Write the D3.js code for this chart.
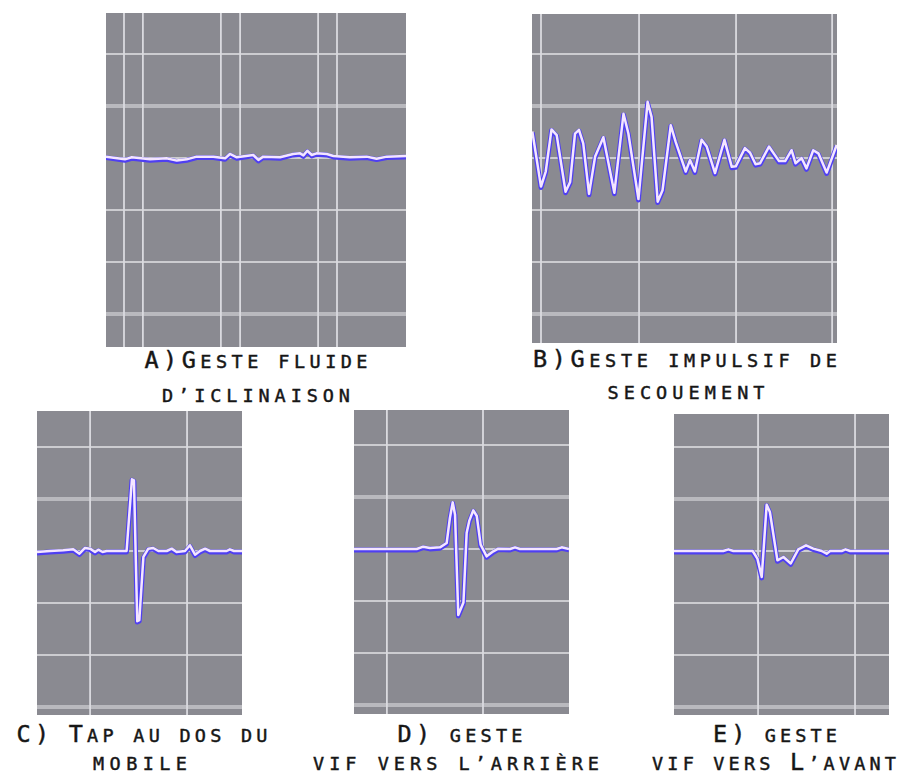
<!DOCTYPE html>
<html>
<head>
<meta charset="utf-8">
<script src="https://cdn.jsdelivr.net/npm/d3@7"></script>
<style>
  html, body { margin: 0; padding: 0; background: #ffffff; }
  svg { display: block; }
</style>
</head>
<body>
<svg id="chart" width="906" height="776"></svg>
<script>
// ---------------- DATA ----------------
// Captions (two lines per panel)
const captionLine1 = ["A)Geste fluide", "B)Geste impulsif de", "C) Tap au dos du", "D) geste", "E) geste"];
const captionLine2 = ["d\u2019iclinaison", "secouement", "mobile", "vif vers l\u2019arri\u00e8re", "vif vers L\u2019avant"];

// Amplitude gridline values (one grid step = 10 units)
const yTicks = [-30, -20, -10, 0, 10, 20, 30];
const yTicksWide = [10, -30];

// Time gridline values per panel (time axis 0..100)
const xTicksA = [6, 12.3, 38.3, 44.7, 70.7, 77];
const xTicksB = [2.95, 35.1, 66.9, 98.4];
const xTicksC = [25.9, 73.2];
const xTicksD = [15.3, 60];
const xTicksE = [39.1, 84.2];

// A) smooth tilt gesture
const tA = [0, 6.3, 8.6, 14.7, 20.2, 23.6, 26.9, 30.2, 35.8, 39.7, 41.3, 43.6, 49.1, 50.8, 52.4, 58, 62.4, 64.7, 65.8, 67.1, 68.6, 70.2, 73.6, 75.8, 81.3, 86.9, 90.2, 93.6, 100];
const vA = [0.26, -0.26, 0.13, -0.26, -0.06, -0.5, -0.26, 0.26, 0.26, -0.06, 0.77, 0.13, 0.58, -0.38, 0.26, 0.13, 0.77, 0.9, 0.5, 1.4, 0.58, 0.9, 0.77, 0.38, 0.13, 0.26, -0.13, 0.26, 0.38];

// B) shaking gesture
const tB = [0.1, 2.95, 4.5, 6.4, 8.1, 11.0, 12.5, 14.1, 15.4, 16.8, 18.7, 20.7, 23.4, 27.0, 30.0, 31.6, 34.9, 37.9, 39.2, 41.2, 42.8, 45.5, 47.1, 50.4, 51.8, 53.4, 55.6, 57.3, 60.0, 63.1, 65.5, 66.8, 69.8, 71.5, 73.3, 74.8, 77.7, 81.0, 83.0, 85.1, 86.4, 88.4, 90.0, 92.2, 93.9, 96.6, 99.9];
const vB = [5.1, -5.5, -2.6, 5.5, 4.4, -6.5, -4.6, 4.7, 5.4, 2.8, -6.9, 0.3, 4.0, -6.7, 8.5, 4.7, -7.9, 10.8, 7.9, -8.4, -6.2, 6.3, 3.1, -2.6, -0.4, -2.6, 3.5, 2.2, -2.9, 3.5, -1.7, -1.6, 1.9, 1.0, -1.2, -1.0, 2.2, -0.6, -0.6, 1.5, -1.0, 0, -2.0, 1.5, 0.9, -2.8, 2.5];

// C) tap on the back
const tC = [0, 6.3, 12.8, 17.7, 20.7, 23.4, 25.9, 28.3, 29.9, 32.0, 34.0, 43.7, 46.3, 47.3, 48.9, 49.9, 51.9, 54.3, 56.7, 59.2, 63.3, 65.7, 68.1, 72.2, 74.6, 77.1, 79.5, 82.0, 84.4, 92.5, 94.1, 96.1, 100];
const vC = [-0.19, 0, 0.13, 0.32, -0.51, 0.58, 0.45, -0.19, 0.26, -0.19, 0, 0, 13.8, 13.6, -13.5, -13.3, -1.15, 0.45, 0.58, 0, 0, 0.45, -0.19, 0, 1.1, -0.7, 0, 0.45, 0, 0, 0.32, 0, 0];

// D) quick backward gesture
const tD = [0, 29.2, 32.2, 35.3, 40.0, 43.1, 44.6, 45.9, 47.0, 48.5, 50.9, 52.4, 53.6, 55.5, 57.1, 58.9, 61.7, 64.8, 67.1, 72.6, 74.9, 77.2, 94.3, 96.6, 100];
const vD = [0, 0, 0.45, 0.19, 0.32, 1.15, 5.96, 8.97, 6.6, -12.7, -10.3, 3.1, 5.4, 7.44, 6.35, 0.83, -1.41, -0.45, 0.06, 0, 0.32, 0, 0, 0.32, 0];

// E) quick forward gesture
const tE = [0, 22.9, 25.3, 27.6, 36.6, 38.8, 40.8, 43.1, 44.6, 48.1, 50.9, 54.3, 57.8, 61.4, 64.8, 68.7, 71.0, 72.6, 78.0, 79.8, 81.9, 100];
const vE = [0, 0, 0.32, 0, 0, -1.47, -5.0, 8.9, 7.5, -1.8, -1.15, -2.4, 0.32, 1.09, 0.45, 0, -0.51, 0, 0, 0.32, 0, 0];

// ---------------- LAYOUT ----------------
const panels = [
  { id: "A", x: 106, y: 13,  w: 300, h: 334, base: 158, t: tA, v: vA, xt: xTicksA,
    cap: { cx1: 256, cx2: 256, b1: 368, b2: 402, w1: 223, w2: 188 } },
  { id: "B", x: 532, y: 14,  w: 305, h: 329, base: 158, t: tB, v: vB, xt: xTicksB,
    cap: { cx1: 685, cx2: 686, b1: 367, b2: 399, w1: 304, w2: 157 } },
  { id: "C", x: 37,  y: 411, w: 205, h: 304, base: 551, t: tC, v: vC, xt: xTicksC,
    cap: { cx1: 142, cx2: 140, b1: 742, b2: 770, w1: 251, w2: 94 } },
  { id: "D", x: 354, y: 410, w: 215, h: 304, base: 549, t: tD, v: vD, xt: xTicksD,
    cap: { cx1: 460, cx2: 456, b1: 742, b2: 770, w1: 125, w2: 286 } },
  { id: "E", x: 674, y: 414, w: 215, h: 301, base: 551, t: tE, v: vE, xt: xTicksE,
    cap: { cx1: 775, cx2: 774, b1: 742, b2: 770, w1: 124, w2: 244 } }
];
const pxPerStep = 52; // pixels per gridline step (10 units)

const svg = d3.select("#chart");
const defs = svg.append("defs");

panels.forEach((p, i) => {
  const x = d3.scaleLinear().domain([0, 100]).range([p.x, p.x + p.w]);
  const y = d3.scaleLinear().domain([-30, 30]).range([p.base + 3 * pxPerStep, p.base - 3 * pxPerStep]);

  defs.append("clipPath").attr("id", "clip" + p.id)
    .append("rect").attr("x", p.x).attr("y", p.y).attr("width", p.w).attr("height", p.h);

  const g = svg.append("g").attr("clip-path", "url(#clip" + p.id + ")");

  g.append("rect").attr("x", p.x).attr("y", p.y).attr("width", p.w).attr("height", p.h)
    .attr("fill", "#8a8a91");

  // horizontal grid
  g.selectAll(".hg").data(yTicks).join("line")
    .attr("x1", p.x).attr("x2", p.x + p.w)
    .attr("y1", d => y(d)).attr("y2", d => y(d))
    .attr("stroke", d => yTicksWide.includes(d) ? "#b9b9be" : "#e2e2e6")
    .attr("stroke-width", d => yTicksWide.includes(d) ? 4 : 1.5);

  // vertical grid
  g.selectAll(".vg").data(p.xt).join("line")
    .attr("x1", d => x(d)).attr("x2", d => x(d))
    .attr("y1", p.y).attr("y2", p.y + p.h)
    .attr("stroke", "#dadadf")
    .attr("stroke-width", 1.8);

  const pts = p.t.map((tv, k) => [tv, p.v[k]]);
  const line = d3.line().x(d => x(d[0])).y(d => y(d[1]));

  g.append("path").attr("d", line(pts))
    .attr("fill", "none").attr("stroke", "#4f3ff2").attr("stroke-width", 4.8)
    .attr("stroke-linejoin", "round")
    .attr("transform", "translate(0,1)");
  g.append("path").attr("d", line(pts))
    .attr("fill", "none").attr("stroke", "#f4e6ff").attr("stroke-width", 2.5)
    .attr("stroke-linejoin", "round");

  // captions
  function caption(text, cx, base, width) {
    const t = svg.append("text")
      .attr("x", cx).attr("y", base)
      .attr("text-anchor", "middle")
      .attr("font-family", "'DejaVu Sans Mono', monospace")
      .attr("fill", "#161616")
      .attr("stroke", "#161616")
      .attr("stroke-width", 0.45)
      .attr("textLength", width)
      .attr("lengthAdjust", "spacing");
    Array.from(text).forEach(ch => {
      const isUpper = ch !== ch.toLowerCase() || ch === ")";
      t.append("tspan")
        .attr("font-size", isUpper ? 23.5 : 18.5)
        .text(ch.toUpperCase());
    });
  }
  caption(captionLine1[i], p.cap.cx1, p.cap.b1, p.cap.w1);
  caption(captionLine2[i], p.cap.cx2, p.cap.b2, p.cap.w2);
});
</script>
</body>
</html>
